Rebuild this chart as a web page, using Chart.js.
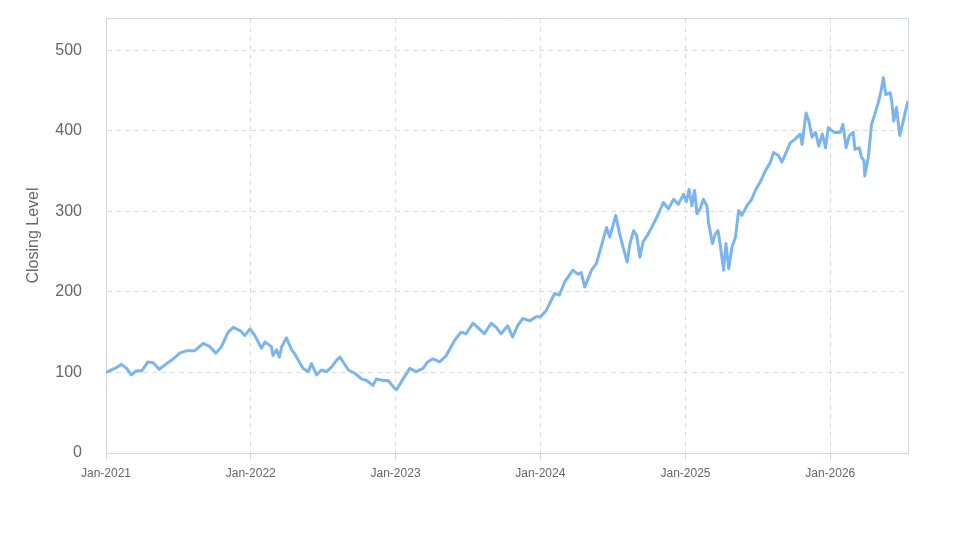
<!DOCTYPE html>
<html>
<head>
<meta charset="utf-8">
<script src="https://cdn.jsdelivr.net/npm/chart.js@4.4.0/dist/chart.umd.min.js"></script>
<style>
  html, body { margin: 0; padding: 0; background: #fff; }
  #wrap { width: 974px; height: 547px; }
</style>
</head>
<body>
<div id="wrap"><canvas id="closingChart"></canvas></div>
<script>
// --- data ---
const dates = [
  "2021-01-01","2021-01-23","2021-02-09","2021-02-22","2021-03-06","2021-03-18","2021-04-01","2021-04-17",
  "2021-04-30","2021-05-15","2021-06-03","2021-06-15","2021-07-06","2021-07-23","2021-08-13","2021-09-03",
  "2021-09-20","2021-10-05","2021-10-19","2021-11-05","2021-11-18","2021-12-05","2021-12-17","2021-12-30",
  "2022-01-11","2022-01-28","2022-02-06","2022-02-22","2022-02-26","2022-03-07","2022-03-14","2022-03-20",
  "2022-04-01","2022-04-14","2022-04-22","2022-05-01","2022-05-13","2022-05-26","2022-06-03","2022-06-16",
  "2022-06-28","2022-07-11","2022-07-24","2022-08-05","2022-08-14","2022-08-22","2022-09-04","2022-09-20",
  "2022-10-07","2022-10-20","2022-11-05","2022-11-14","2022-12-01","2022-12-13","2022-12-30",
  "2023-01-04","2023-01-20","2023-02-06","2023-02-22","2023-03-11","2023-03-23","2023-04-05","2023-04-22",
  "2023-05-09","2023-05-21","2023-05-30","2023-06-15","2023-06-28","2023-07-15","2023-07-27","2023-08-13",
  "2023-08-30","2023-09-12","2023-09-24","2023-10-11","2023-10-23","2023-11-05","2023-11-18","2023-12-05",
  "2023-12-21",
  "2024-01-01","2024-01-16","2024-02-06","2024-02-18","2024-03-02","2024-03-23","2024-04-05","2024-04-13",
  "2024-04-22","2024-05-09","2024-05-21","2024-06-03","2024-06-16","2024-06-24","2024-07-09","2024-07-19",
  "2024-07-28","2024-08-07","2024-08-14","2024-08-23","2024-08-31","2024-09-08","2024-09-16","2024-09-29",
  "2024-10-16","2024-10-25","2024-11-06","2024-11-19","2024-12-02","2024-12-14","2024-12-27",
  "2025-01-03","2025-01-10","2025-01-17","2025-01-24","2025-01-30","2025-02-07","2025-02-15","2025-02-24",
  "2025-02-28","2025-03-10","2025-03-17","2025-03-24","2025-03-30","2025-04-07","2025-04-13","2025-04-20",
  "2025-04-28","2025-05-07","2025-05-15","2025-05-23","2025-06-05","2025-06-17","2025-06-26","2025-07-08",
  "2025-07-21","2025-08-03","2025-08-11","2025-08-24","2025-09-01","2025-09-10","2025-09-22","2025-10-05",
  "2025-10-17","2025-10-22","2025-11-01","2025-11-08","2025-11-16","2025-11-25","2025-12-03","2025-12-12",
  "2025-12-20","2025-12-27",
  "2026-01-05","2026-01-13","2026-01-26","2026-02-02","2026-02-10","2026-02-18","2026-02-28","2026-03-04",
  "2026-03-15","2026-03-21","2026-03-27","2026-03-29","2026-04-07","2026-04-15","2026-04-23","2026-05-02",
  "2026-05-08","2026-05-15","2026-05-21","2026-06-01","2026-06-05","2026-06-10","2026-06-17","2026-06-25",
  "2026-07-04","2026-07-10","2026-07-16"
];

const closes = [
  100,105,110,105,97,102,102,113,
  112,104,111,115,124,127,127,136,
  132,124,132,150,156,152,146,154,
  146,130,138,132,121,128,119,132,
  143,128,123,115,105,101,111,97,
  103,101,107,115,119,113,103,99,
  92,90,84,92,90,90,80,
  79,92,105,101,105,113,117,113,
  121,132,140,150,148,161,156,148,
  161,156,148,158,144,158,167,164,
  169,
  169,177,198,196,212,227,222,224,
  206,227,235,257,280,268,295,272,
  255,237,260,276,270,243,262,272,
  288,297,311,303,315,309,321,
  312,327,307,326,297,303,315,307,
  286,260,272,276,257,227,260,229,
  255,268,301,295,307,315,326,336,
  350,361,373,369,361,371,385,390,
  396,383,422,412,392,398,381,396,
  379,404,
  400,398,398,408,379,394,398,377,
  379,367,363,344,367,408,420,435,
  447,466,445,447,437,412,429,394,
  412,425,437
];

const yearTicks = ["2021-01-01","2022-01-01","2023-01-01","2024-01-01","2025-01-01","2026-01-01"];
const yTicks = [0, 100, 200, 300, 400, 500];
const yMax = 540;

// --- chart ---
const FONT = "'Liberation Sans', Arial, sans-serif";
const MONTHS = ["Jan","Feb","Mar","Apr","May","Jun","Jul","Aug","Sep","Oct","Nov","Dec"];

const points = dates.map((d, i) => ({ x: Date.parse(d), y: closes[i] }));

// outline the plot area on top / right like the reference
const frame = {
  id: "frame",
  beforeDatasetsDraw(chart) {
    const { ctx, chartArea: a } = chart;
    ctx.save();
    ctx.strokeStyle = "#d4d8de";
    ctx.lineWidth = 1;
    ctx.beginPath();
    ctx.moveTo(a.left, a.top + 0.5);
    ctx.lineTo(a.right + 0.5, a.top + 0.5);
    ctx.lineTo(a.right + 0.5, a.bottom);
    ctx.stroke();
    ctx.restore();
  }
};

new Chart(document.getElementById("closingChart"), {
  type: "line",
  data: {
    datasets: [{
      label: "Closing Level",
      data: points,
      borderColor: "#7cb5ec",
      borderWidth: 3,
      borderJoinStyle: "round",
      pointRadius: 0,
      tension: 0,
      fill: false
    }]
  },
  options: {
    responsive: true,
    maintainAspectRatio: false,
    animation: false,
    layout: { padding: { left: 0, top: 18, right: 66, bottom: 0 } },
    plugins: { legend: { display: false }, tooltip: { enabled: false } },
    scales: {
      x: {
        type: "linear",
        min: Date.parse(dates[0]),
        max: Date.parse(dates[dates.length - 1]),
        afterBuildTicks: (s) => { s.ticks = yearTicks.map(d => ({ value: Date.parse(d) })); },
        afterFit: (s) => { s.height = 94; s.paddingLeft = 0; s.paddingRight = 0; },
        ticks: {
          autoSkip: false,
          maxRotation: 0,
          padding: 6,
          color: "#666",
          font: { family: FONT, size: 12 },
          callback: (v) => {
            const d = new Date(v);
            return MONTHS[d.getUTCMonth()] + "-" + d.getUTCFullYear();
          }
        },
        grid: {
          color: "#dcdcdc",
          tickColor: "#ccd6eb",
          tickLength: 7,
          drawTicks: true
        },
        border: { display: true, color: "#ccd6eb", width: 1, dash: [5, 4] }
      },
      y: {
        min: 0,
        max: yMax,
        afterBuildTicks: (s) => { s.ticks = yTicks.map(v => ({ value: v })); },
        afterFit: (s) => { s.width = 106; s.paddingTop = 0; s.paddingBottom = 0; },
        ticks: {
          padding: 24,
          color: "#666",
          font: { family: FONT, size: 16 }
        },
        grid: { color: "#dcdcdc", drawTicks: false },
        border: { display: true, color: "#d4d8de", width: 1, dash: [5, 4] },
        title: {
          display: true,
          text: "Closing Level",
          color: "#666",
          font: { family: FONT, size: 16 },
          padding: { top: 24, bottom: 0 }
        }
      }
    }
  },
  plugins: [frame]
});
</script>
</body>
</html>
